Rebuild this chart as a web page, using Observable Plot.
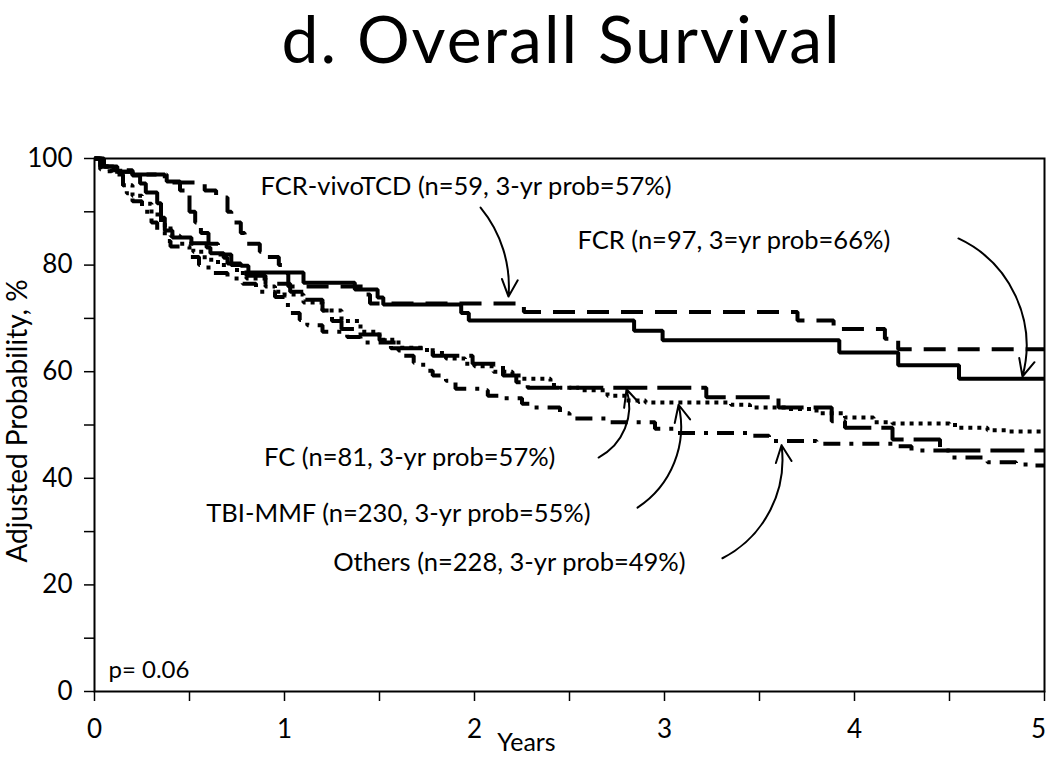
<!DOCTYPE html>
<html><head><meta charset="utf-8">
<script src="https://cdn.jsdelivr.net/npm/d3@7"></script>
<script src="https://cdn.jsdelivr.net/npm/@observablehq/plot@0.6"></script>
<style>
body{margin:0;background:#fff;font-family:Lato,"Open Sans",sans-serif;color:#000;}
#title{height:100px;width:1050px;box-sizing:border-box;padding-left:73px;text-align:center;font-size:66px;line-height:75px;letter-spacing:2px;font-family:Lato,"Open Sans",sans-serif;}
#chart svg{display:block;}
</style></head><body>
<div id="title">d. Overall Survival</div>
<div id="chart"></div>
<script>
// ---- data (years, adjusted probability %) ----
const fcrTime = [0,0.05,0.12,0.2,0.24,0.27,0.33,0.35,0.37,0.41,0.51,0.59,0.61,0.68,0.70,0.77,0.81,1.10,1.37,1.49,1.52,1.93,1.97,2.84,2.99,3.92,4.23,4.55,5];
const fcrProb = [100,98.5,97.5,96.8,95.3,93.6,91.6,88.9,86.5,85.2,84.1,83.3,82.2,81.4,80.3,79.9,78.6,76.7,75.4,73.9,72.6,71,69.6,67.7,65.9,63.6,61.2,58.7,58.7];

const vivoTime = [0,0.03,0.1,0.2,0.37,0.58,0.64,0.70,0.72,0.77,0.79,0.87,0.91,0.97,0.99,1.02,1.42,1.45,2.26,3.7,3.89,4.16,4.23,5];
const vivoProb = [100,98.5,97.5,97,95.5,94,92.7,90,88,86,84,82.5,81.5,80,78.5,76,74.5,72.8,71.2,69.6,68,66.2,64.2,64.2];

const fcTime = [0,0.04,0.1,0.2,0.38,0.45,0.5,0.53,0.56,0.6,0.65,0.72,0.8,0.9,1.03,1.11,1.2,1.25,1.3,1.4,1.5,1.56,1.78,1.99,2.15,2.22,2.28,3.22,3.6,3.88,3.95,4.2,4.45,5];
const fcProb = [100,98.5,97.8,97,95.7,94,90,88,86,84,82,80,78,76.5,75,73.5,71.5,69.5,68,67,65.9,64.4,63,61.5,59.3,58,57,55.2,53.3,50.7,49.5,47.3,45.2,45.2];

const tbiTime = [0,0.04,0.08,0.15,0.2,0.25,0.3,0.35,0.4,0.45,0.52,0.58,0.65,0.75,0.8,0.9,0.95,1.0,1.1,1.2,1.3,1.4,1.5,1.6,1.75,1.85,1.95,2.0,2.1,2.2,2.25,2.4,2.45,2.55,2.7,2.8,2.9,3.2,3.35,3.45,3.65,3.8,3.95,4.1,4.2,4.5,4.55,4.7,4.8,5];
const tbiProb = [100,98.5,97.7,95,93,91.5,89.5,87.5,85.5,84,82.5,81,80,78.5,77.5,76,75,74.5,73,71.5,69.5,67.5,66,64.5,63.5,62.5,61.5,61,60,59.3,58.7,57.5,57,56.5,55.5,54.6,54.2,54.2,53.8,53.3,53,52.2,51.4,50.5,50.3,50,49.5,49,48.8,48.8];

const othTime = [0,0.03,0.08,0.15,0.17,0.2,0.25,0.3,0.33,0.37,0.4,0.5,0.55,0.6,0.7,0.78,0.85,0.95,1.0,1.03,1.08,1.12,1.2,1.33,1.4,1.6,1.63,1.68,1.73,1.78,1.85,1.9,2.03,2.07,2.15,2.25,2.3,2.45,2.5,2.7,2.95,3.05,3.45,3.55,3.8,4.2,4.3,4.5,4.7,4.85,4.95,5];
const othProb = [100,98,97,95,93.5,92,90,88,86.5,84.5,83.5,81.5,80,78.5,77.5,76.5,75,74,72.5,71,69.7,68.7,67.5,66.5,65.5,64,63,61.7,60.2,59.3,58.3,56.8,56.5,55.5,55,54,53.3,52.2,51.2,50.5,49.3,48.5,48,47,46.5,46,45.2,43.9,43,42.6,42.4,42.4];

const xTicks = [0,0.5,1,1.5,2,2.5,3,3.5,4,4.5,5];
const xTickLabels = [0,1,2,3,4];
const xLastLabel = [5];
const yTicks = [0,10,20,30,40,50,60,70,80,90,100];

// ---- annotations (text + anchor points in data units) ----
const labelText = ["FCR-vivoTCD (n=59, 3-yr prob=57%)", "FCR (n=97, 3=yr prob=66%)", "FC (n=81, 3-yr prob=57%)", "TBI-MMF (n=230, 3-yr prob=55%)", "Others (n=228, 3-yr prob=49%)"];
const labelX = [0.874, 2.542, 2.426, 2.611, 3.111];
const labelY = [94.6, 84.6, 43.9, 33.4, 24.2];
const arrowFrom = [[2.032, 90.8], [4.547, 85.0], [2.653, 43.9], [2.858, 34.5], [3.305, 25.0]];
const arrowTo   = [[2.179, 74.1], [4.884, 59.1], [2.80, 56.7], [3.074, 53.8], [3.616, 46.2]];

// ---- build tables ----
const mk = (t, p) => t.map((d, i) => ({t: d, p: p[i]}));
const seriesStyle = [
  {data: mk(fcrTime, fcrProb), dash: null},
  {data: mk(vivoTime, vivoProb), dash: "22,12"},
  {data: mk(fcTime, fcProb), dash: "34,10"},
  {data: mk(tbiTime, tbiProb), dash: "4,5"},
  {data: mk(othTime, othProb), dash: "17,9,4,9"}
];
const labels = labelText.map((s, i) => ({s, x: labelX[i], y: labelY[i]}));
const arrows = arrowFrom.map((a, i) => ({x1: a[0], y1: a[1], x2: arrowTo[i][0], y2: arrowTo[i][1]}));
const bends = [22, 40, -40, -35, -35];

const chart = Plot.plot({
  width: 1050, height: 658,
  marginTop: 58, marginBottom: 67, marginLeft: 94, marginRight: 6,
  style: {fontFamily: "Lato, 'Open Sans', sans-serif", fontSize: "26px", color: "#000", background: "#fff"},
  x: {domain: [0, 5]},
  y: {domain: [0, 100]},
  marks: [
    Plot.axisX({ticks: xTicks, tickSize: 10, tickPadding: 18, strokeWidth: 1.5, label: null,
      tickFormat: d => xTickLabels.includes(d) ? String(d) : "", fontSize: 26}),
    Plot.text(xLastLabel, {x: d => d, y: () => 0, dy: 28, dx: -6, lineAnchor: "top", textAnchor: "middle", fontSize: 26, fill: "#000"}),
    Plot.axisY({ticks: yTicks, tickSize: 10, tickPadding: 12, strokeWidth: 1.5, label: null,
      tickFormat: d => d % 20 === 0 ? String(d) : "", fontSize: 26}),
    Plot.frame({stroke: "#000", strokeWidth: 2}),
    ...seriesStyle.map(s => Plot.line(s.data, {x: "t", y: "p", curve: "step-after",
      stroke: "#000", strokeWidth: 4, strokeDasharray: s.dash, strokeLinecap: "butt", strokeLinejoin: "miter"})),
    Plot.text(labels.slice(0, 2), {x: "x", y: "y", text: "s", textAnchor: "start", fontSize: 25.5, fill: "#000"}),
    Plot.text(labels.slice(2), {x: "x", y: "y", text: "s", textAnchor: "end", fontSize: 25.5, fill: "#000"}),
    ...arrows.map((a, i) => Plot.arrow([a], {x1: "x1", y1: "y1", x2: "x2", y2: "y2",
      bend: bends[i], stroke: "#000", strokeWidth: 2, headLength: 14, headAngle: 50})),
    Plot.text(["p= 0.06"], {frameAnchor: "bottom-left", dx: 14, dy: -21, textAnchor: "start", lineAnchor: "middle", fontSize: 24, fill: "#000"}),
    Plot.text(["Years"], {frameAnchor: "bottom", dx: -43, dy: 51, textAnchor: "middle", lineAnchor: "middle", fontSize: 25, fill: "#000"}),
    Plot.text(["Adjusted Probability, %"], {frameAnchor: "left", dx: -76, dy: -4, rotate: -90, textAnchor: "middle", lineAnchor: "middle", fontSize: 28, fill: "#000"})
  ]
});
document.getElementById("chart").appendChild(chart);
</script>
</body></html>
